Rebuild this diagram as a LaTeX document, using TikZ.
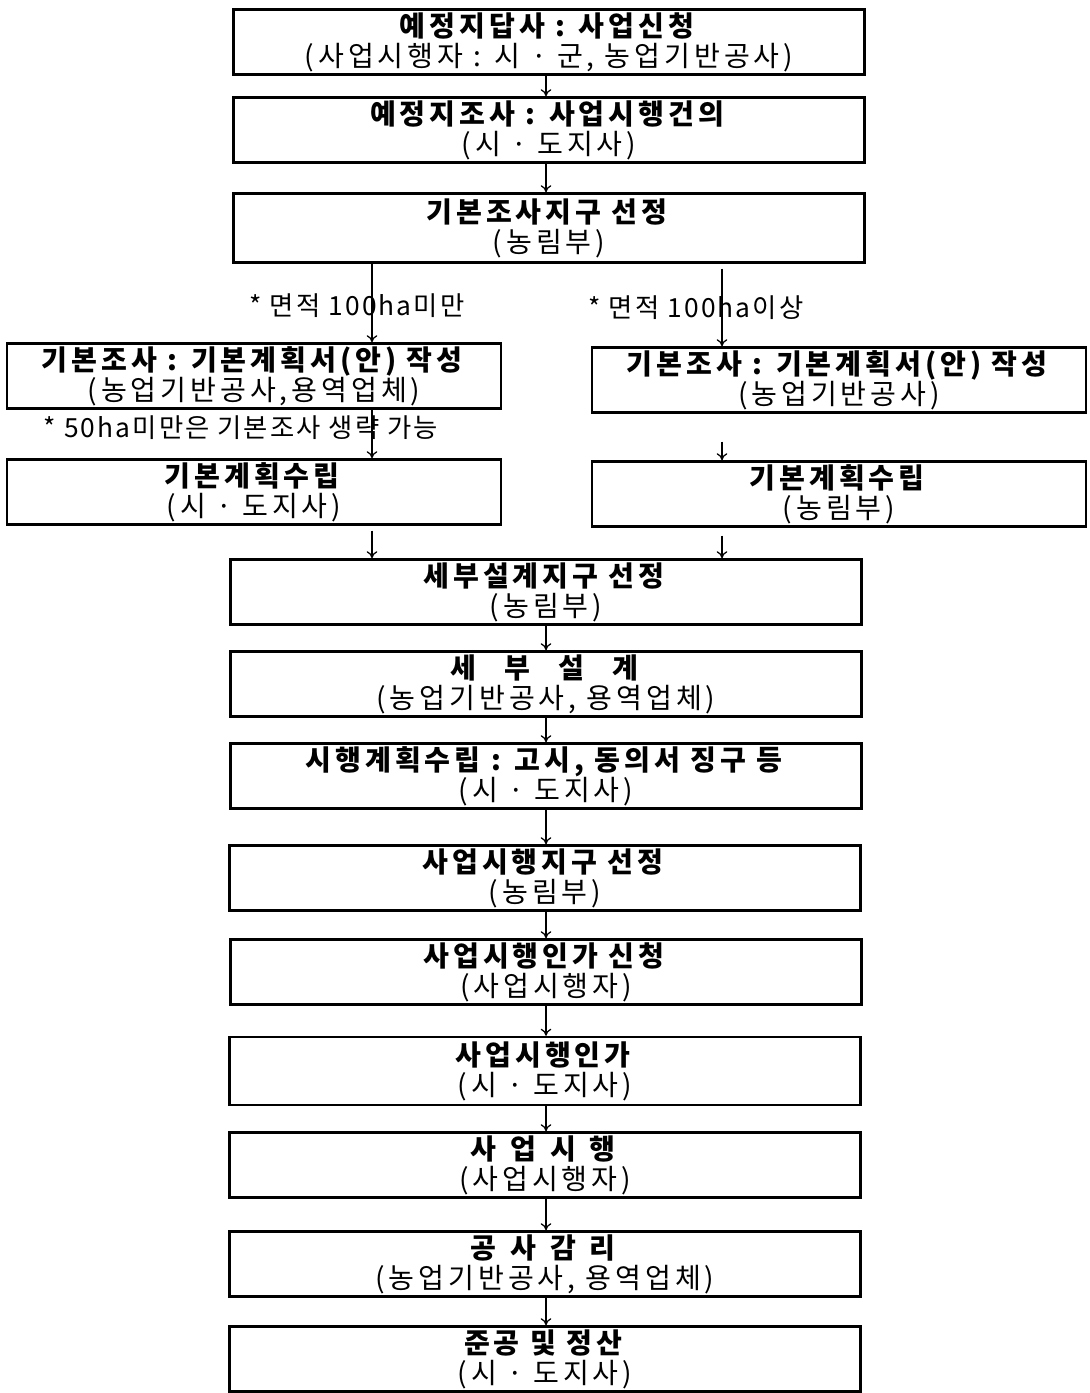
\documentclass[tikz,border=0pt]{standalone}
\usepackage{fontspec}
\setmainfont{Noto Sans CJK KR}[LetterSpace=8]
\newfontfamily\boxfont{Noto Sans CJK KR}[LetterSpace=14]
\usetikzlibrary{arrows.meta,calc}

\begin{document}
\begin{tikzpicture}[
    x=0.02cm, y=-0.02cm,
    box/.style={draw, line width=1.4pt, minimum width=12.62cm, minimum height=1.3cm,
        align=center, inner sep=0pt, font=\boxfont\fontsize{16}{17}\selectfont},
    half/.style={box, minimum width=9.88cm},
    note/.style={inner sep=0pt, font=\fontsize{15}{17}\selectfont},
    arr/.style={-{To[length=4pt,width=6pt]}, line width=0.7pt}
]
\useasboundingbox (0,0) rectangle (1089,1393);

% column lines
\coordinate (mid) at (546,0);
\coordinate (lcol) at (372,0);
\coordinate (rcol) at (722,0);

% main chain, top part
\node[box] (b1) at (549,42) {\textbf{예정지답사 : 사업신청}\\(사업시행자 : 시 · 군, 농업기반공사)};
\node[box] (b2) at (549,130) {\textbf{예정지조사 : 사업시행건의}\\(시 · 도지사)};
\node[box, minimum height=1.38cm] (b3) at (549,228) {\textbf{기본조사지구 선정}\\(농림부)};

% two branches
\node[half] (l4) at (254,376) {\textbf{기본조사 : 기본계획서(안) 작성}\\(농업기반공사,용역업체)};
\node[half] (r4) at (839,380) {\textbf{기본조사 : 기본계획서(안) 작성}\\(농업기반공사)};
\node[half] (l5) at (254,492) {\textbf{기본계획수립}\\(시 · 도지사)};
\node[half] (r5) at (839,494) {\textbf{기본계획수립}\\(농림부)};

\node[note] (n1) at (357,306) {* 면적 100ha미만};
\node[note] (n2) at (696,308) {* 면적 100ha이상};
\node[note] (n3) at (241,428) {* 50ha미만은 기본조사 생략 가능};

% main chain, lower part
\node[box] (b6) at (546,592) {\textbf{세부설계지구 선정}\\(농림부)};
\node[box] (b7) at (546,684) {\textbf{세\hspace{1em}부\hspace{1em}설\hspace{1em}계}\\(농업기반공사, 용역업체)};
\node[box] (b8) at (546,776) {\textbf{시행계획수립 : 고시, 동의서 징구 등}\\(시 · 도지사)};
\node[box] (b9) at (545,878) {\textbf{사업시행지구 선정}\\(농림부)};
\node[box] (b10) at (546,972) {\textbf{사업시행인가 신청}\\(사업시행자)};
\node[box, minimum height=1.36cm] (b11) at (545,1071) {\textbf{사업시행인가}\\(시 · 도지사)};
\node[box] (b12) at (545,1165) {\textbf{사\hspace{0.5em}업\hspace{0.5em}시\hspace{0.5em}행}\\(사업시행자)};
\node[box] (b13) at (545,1264) {\textbf{공\hspace{0.5em}사\hspace{0.5em}감\hspace{0.5em}리}\\(농업기반공사, 용역업체)};
\node[box] (b14) at (545,1359) {\textbf{준공 및 정산}\\(시 · 도지사)};

% arrows
\draw[arr] (b1.south -| mid) -- (b2.north -| mid);
\draw[arr] (b2.south -| mid) -- (b3.north -| mid);
\draw[arr] (b3.south -| lcol) -- (l4.north -| lcol);
\draw[arr] ($(b3.south -| rcol)+(0,5)$) -- (r4.north -| rcol);
\draw[arr] (l4.south -| lcol) -- (l5.north -| lcol);
\draw[arr] ($(r4.south -| rcol)+(0,28)$) -- (r5.north -| rcol);
\draw[arr] ($(l5.south -| lcol)+(0,5)$) -- (b6.north -| lcol);
\draw[arr] ($(r5.south -| rcol)+(0,8)$) -- (b6.north -| rcol);
\foreach \a/\b in {b6/b7,b7/b8,b8/b9,b9/b10,b10/b11,b11/b12,b12/b13,b13/b14}
    \draw[arr] (\a.south -| mid) -- (\b.north -| mid);
\end{tikzpicture}
\end{document}
